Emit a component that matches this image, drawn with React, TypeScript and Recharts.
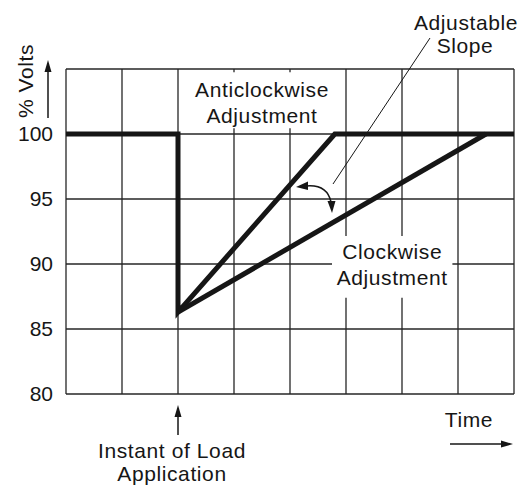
import React from 'react'
import { LineChart, Line, XAxis, YAxis, CartesianGrid, ReferenceArea } from 'recharts'

const timeTicks = [0, 1, 2, 3, 4, 5, 6, 7, 8]
const voltTicks = [80, 85, 90, 95, 100, 105]

// voltage recovery with the slope turned anticlockwise (fast) — includes the 100% steady lines
const anticlockwiseResponse = [
  { t: 0, v: 100 },
  { t: 2, v: 100 },
  { t: 2, v: 86.3 },
  { t: 4.8, v: 100 },
  { t: 8, v: 100 },
]

// slower recovery with the slope turned clockwise
const clockwiseResponse = [
  { t: 2, v: 86.3 },
  { t: 7.5, v: 100 },
]

const FONT = '"Liberation Sans", Arial, sans-serif'
const INK = '#161616'

const twoLineLabel = (lines: string[], dy: number) => (props: any) => {
  const { x, y, width, height } = props.viewBox
  const cx = x + width / 2
  const cy = y + height / 2 + dy
  return (
    <g>
      {lines.map((s, i) => (
        <text
          key={s}
          x={cx}
          y={cy + i * 26}
          textAnchor="middle"
          fontFamily={FONT}
          fontSize={21}
          letterSpacing={0.6}
          fill={INK}
        >
          {s}
        </text>
      ))}
    </g>
  )
}

function Annotations() {
  const text = { fontFamily: FONT, fontSize: 21, letterSpacing: 0.6, fill: INK }
  return (
    <svg
      width={528}
      height={485}
      style={{ position: 'absolute', left: 0, top: 0, pointerEvents: 'none' }}
    >
      {/* y axis title + arrow */}
      <text {...text} transform="translate(33,81) rotate(-90)" textAnchor="middle">
        % Volts
      </text>
      <line x1={48} y1={118} x2={48} y2={70} stroke={INK} strokeWidth={1.5} />
      <polygon points="48,60 44.5,72 51.5,72" fill={INK} />

      {/* load application marker */}
      <line x1={178} y1={435} x2={178} y2={415} stroke={INK} strokeWidth={1.5} />
      <polygon points="178,405 174.5,417 181.5,417" fill={INK} />
      <text {...text} x={172} y={458} textAnchor="middle">Instant of Load</text>
      <text {...text} x={172} y={481} textAnchor="middle">Application</text>

      {/* time arrow */}
      <text {...text} x={469} y={427} textAnchor="middle">Time</text>
      <line x1={450} y1={444} x2={502} y2={444} stroke={INK} strokeWidth={1.5} />
      <polygon points="513,444 501,440.5 501,447.5" fill={INK} />

      {/* adjustable slope callout */}
      <text {...text} x={466} y={30} textAnchor="middle">Adjustable</text>
      <text {...text} x={465} y={53} textAnchor="middle">Slope</text>
      <line x1={430} y1={38} x2={333} y2={184} stroke={INK} strokeWidth={1} />
      <path d="M 306 186 Q 327 184 331 202" fill="none" stroke={INK} strokeWidth={1.5} />
      <polygon points="296,187 308,181.5 308,190" fill={INK} />
      <polygon points="332,213 327.5,201 335.5,201" fill={INK} />
    </svg>
  )
}

export default function App() {
  return (
    <div style={{ position: 'absolute', left: 0, top: 0, width: 528, height: 485, background: '#fff' }}>
      <LineChart width={528} height={485} margin={{ top: 69, right: 14, bottom: 91, left: 0 }}>
        <CartesianGrid stroke="#262626" strokeWidth={1.3} />
        <XAxis
          type="number"
          dataKey="t"
          domain={[0, 8]}
          ticks={timeTicks}
          interval={0}
          height={0}
          tickFormatter={() => ''}
          axisLine={false}
          tickLine={false}
        />
        <YAxis
          type="number"
          domain={[80, 105]}
          ticks={voltTicks}
          interval={0}
          width={66}
          axisLine={false}
          tickLine={false}
          tickSize={0}
          tickMargin={13}
          tickFormatter={(v: number) => (v === 105 ? '' : String(v))}
          tick={{ fontFamily: FONT, fontSize: 21, fill: INK }}
        />
        <ReferenceArea
          x1={2.1}
          x2={4.9}
          y1={100.45}
          y2={104.75}
          fill="#fff"
          fillOpacity={1}
          stroke="none"
          label={twoLineLabel(['Anticlockwise', 'Adjustment'], -3)}
        />
        <ReferenceArea
          x1={4.75}
          x2={6.9}
          y1={87.4}
          y2={92.15}
          fill="#fff"
          fillOpacity={1}
          stroke="none"
          label={twoLineLabel(['Clockwise', 'Adjustment'], -8)}
        />
        <Line
          data={anticlockwiseResponse}
          dataKey="v"
          type="linear"
          stroke={INK}
          strokeWidth={5}
          strokeLinejoin="miter"
          dot={false}
          activeDot={false}
          isAnimationActive={false}
        />
        <Line
          data={clockwiseResponse}
          dataKey="v"
          type="linear"
          stroke={INK}
          strokeWidth={5}
          dot={false}
          activeDot={false}
          isAnimationActive={false}
        />
      </LineChart>
      <Annotations />
    </div>
  )
}
